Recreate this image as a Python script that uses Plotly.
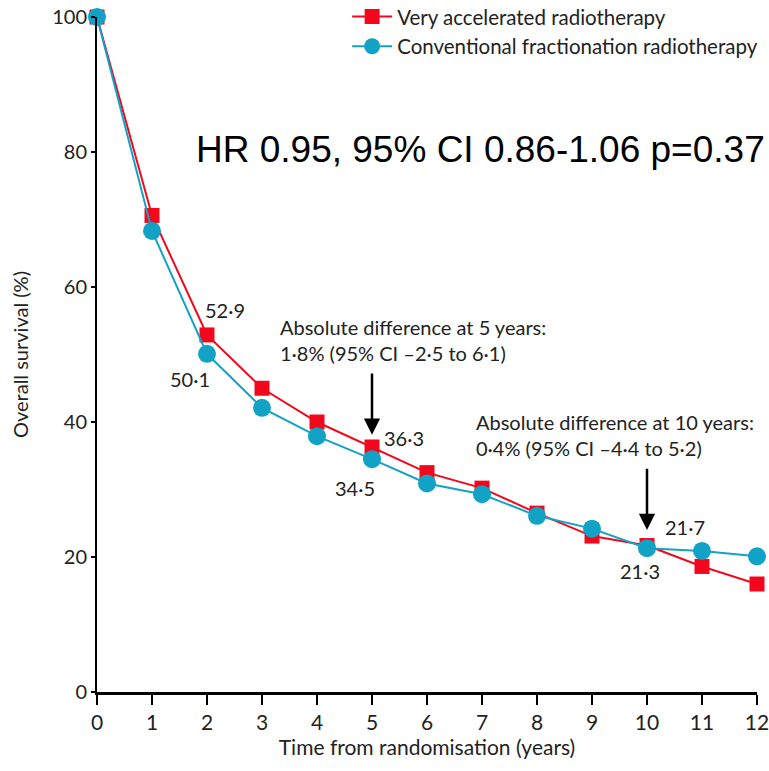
import plotly.graph_objects as go

years = list(range(13))
very_accel = [100, 70.6, 52.9, 45.0, 40.0, 36.3, 32.5, 30.2, 26.5, 23.1, 21.7, 18.6, 16.0]
conventional = [100, 68.3, 50.1, 42.1, 37.9, 34.5, 30.9, 29.3, 26.1, 24.2, 21.3, 20.9, 20.1]
x_ticks = list(range(13))
y_ticks = [0, 20, 40, 60, 80, 100]

RED = "#f2071c"
CYAN = "#12a2c6"
FONT = "Lato"
TXT = "#222"

fig = go.Figure()
fig.add_trace(go.Scatter(x=years, y=very_accel, mode="lines+markers",
                         name="Very accelerated radiotherapy",
                         line=dict(color=RED, width=2),
                         marker=dict(symbol="square", size=15, color=RED),
                         cliponaxis=False))
fig.add_trace(go.Scatter(x=years, y=conventional, mode="lines+markers",
                         name="Conventional fractionation radiotherapy",
                         line=dict(color=CYAN, width=2),
                         marker=dict(symbol="circle", size=18, color=CYAN),
                         cliponaxis=False))

labels = [
    (2.33, 56.6, "52·9"), (1.69, 46.4, "50·1"),
    (5.58, 37.6, "36·3"), (4.69, 30.2, "34·5"),
    (10.69, 24.4, "21·7"), (9.87, 17.9, "21·3"),
]
for lx, ly, t in labels:
    fig.add_annotation(x=lx, y=ly, text=t, showarrow=False,
                       font=dict(family=FONT, size=20, color=TXT))

fig.add_annotation(x=3.29, y=52.1, xanchor="left", align="left", showarrow=False,
                   text="Absolute difference at 5 years:<br>1·8% (95% CI –2·5 to 6·1)",
                   font=dict(family=FONT, size=20, color=TXT))
fig.add_annotation(x=6.85, y=38.1, xanchor="left", align="left", showarrow=False,
                   text="Absolute difference at 10 years:<br>0·4% (95% CI –4·4 to 5·2)",
                   font=dict(family=FONT, size=20, color=TXT))

fig.add_annotation(x=5, y=38.1, ax=5, ay=47.4, axref="x", ayref="y", xref="x", yref="y",
                   text="", showarrow=True, arrowhead=2, arrowsize=1.3, arrowwidth=2.5,
                   arrowcolor="black")
fig.add_annotation(x=10, y=24.0, ax=10, ay=33.3, axref="x", ayref="y", xref="x", yref="y",
                   text="", showarrow=True, arrowhead=2, arrowsize=1.3, arrowwidth=2.5,
                   arrowcolor="black")

fig.add_annotation(x=1.015, y=0.803, xref="paper", yref="paper", xanchor="right",
                   yanchor="middle",
                   showarrow=False, text="HR 0.95, 95% CI 0.86-1.06 p=0.37",
                   font=dict(family="Liberation Sans", size=37, color="black"))

fig.update_layout(
    width=769, height=771,
    margin=dict(l=97, r=12, t=17, b=79, autoexpand=False),
    paper_bgcolor="white", plot_bgcolor="white",
    font=dict(family=FONT, size=18, color=TXT),
    showlegend=True,
    legend=dict(x=0.379, y=1.03, xanchor="left", yanchor="top",
                font=dict(family=FONT, size=20.5, color=TXT),
                bgcolor="rgba(0,0,0,0)", itemwidth=40, tracegroupgap=0),
    xaxis=dict(range=[0, 12], tickvals=x_ticks, showgrid=False, zeroline=False,
               showline=True, linecolor="black", linewidth=3,
               ticks="outside", ticklen=10, tickwidth=2, tickcolor="black",
               ticklabeloverflow="allow",
               tickfont=dict(family=FONT, size=21, color=TXT),
               title=dict(text="Time from randomisation (years)",
                          font=dict(family=FONT, size=21, color=TXT), standoff=8)),
    yaxis=dict(range=[0, 100], tickvals=y_ticks, showgrid=False, zeroline=False,
               showline=True, linecolor="black", linewidth=2,
               ticks="outside", ticklen=4, tickwidth=2, tickcolor="black",
               ticklabeloverflow="allow",
               tickfont=dict(family=FONT, size=20, color=TXT),
               title=dict(text="Overall survival (%)",
                          font=dict(family=FONT, size=20, color=TXT), standoff=18)),
)

fig.write_html("out.html")
